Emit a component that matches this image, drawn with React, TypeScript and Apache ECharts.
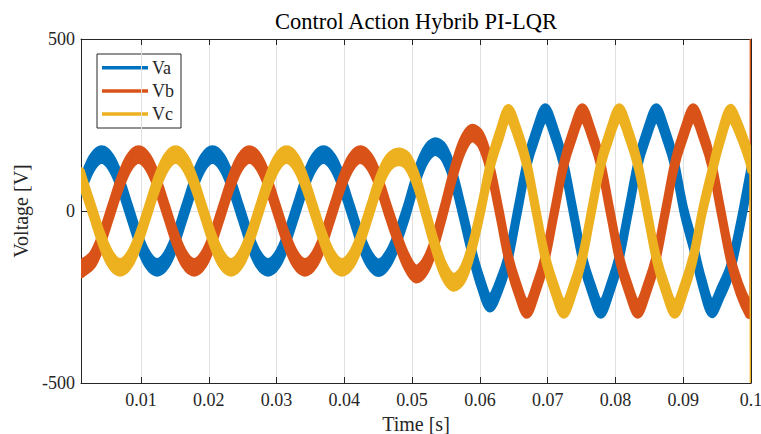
import React, { useEffect, useRef } from 'react';
import * as echarts from 'echarts';

// time samples [s]
const T = [0.00115, 0.00147, 0.00284, 0.0042, 0.00556, 0.00693, 0.00829, 0.00965, 0.01102, 0.01238, 0.01375, 0.01511, 0.01647, 0.01784, 0.0192, 0.02056, 0.02193, 0.02329, 0.02465, 0.02602, 0.02738, 0.02875, 0.03011, 0.03147, 0.03284, 0.0342, 0.03556, 0.03693, 0.03829, 0.03965, 0.04102, 0.04238, 0.04375, 0.04511, 0.04647, 0.04784, 0.0492, 0.05056, 0.05193, 0.05329, 0.05465, 0.05602, 0.05738, 0.05874, 0.06011, 0.06147, 0.06284, 0.0642, 0.06556, 0.06693, 0.06829, 0.06965, 0.07102, 0.07238, 0.07375, 0.07511, 0.07647, 0.07784, 0.0792, 0.08056, 0.08193, 0.08329, 0.08465, 0.08602, 0.08738, 0.08874, 0.09011, 0.09147, 0.09284, 0.0942, 0.09556, 0.09693, 0.09829, 0.09965, 0.09995, 0.1];

const VA = [70,
  82, 142,
  164, 142, 82, 0, -82, -142, -164, -142, -82, 0, 82, 142,
  164, 142, 82, 0, -82, -142, -164, -142, -82, 0, 82, 142,
  164, 142, 82, 0, -82, -142, -165, -139, -79, 0, 92, 160,
  187, 171, 104, 0, -113, -208, -268, -218, -135, 0, 136, 226,
  286, 226, 136, 0, -136, -226, -286, -226, -136, 0, 136, 226,
  286, 226, 136, 0, -101, -212, -284, -235, -170, -52, 88,
  117, 123];

const VB = [-168,
  -164, -142,
  -82, 0, 82, 142, 164, 142, 82, 0, -82, -142, -164, -142,
  -82, 0, 82, 142, 164, 142, 82, 0, -82, -142, -164, -142,
  -82, 0, 82, 142, 164, 142, 83, 0, -79, -147, -183, -160,
  -94, 0, 104, 187, 226, 208, 128, 0, -135, -226, -286, -226,
  -136, 0, 136, 226, 286, 226, 136, 0, -136, -226, -286, -226,
  -136, 0, 136, 226, 286, 226, 136, 0, -136, -226, -286,
  -284, 800];

const VC = [100,
  82, 0,
  -82, -142, -164, -142, -82, 0, 82, 142, 164, 142, 82, 0,
  -82, -142, -164, -142, -82, 0, 82, 142, 164, 142, 82, 0,
  -82, -142, -164, -142, -82, 0, 83, 139, 157, 147, 92, 0,
  -94, -171, -207, -187, -113, 0, 128, 218, 284, 226, 136, 0,
  -136, -226, -286, -226, -136, 0, 136, 226, 286, 226, 136, 0,
  -136, -226, -286, -226, -136, 0, 111, 215, 284, 235, 160,
  134, -800];

const SERIES_NAMES = ['Va', 'Vb', 'Vc'];
const X_TICKS = [0.01, 0.02, 0.03, 0.04, 0.05, 0.06, 0.07, 0.08, 0.09, 0.1];
const X_TICK_LABELS = ['0.01', '0.02', '0.03', '0.04', '0.05', '0.06', '0.07', '0.08', '0.09', '0.1'];
const X_MIN = 0.00115;
const X_MAX = 0.1;
const Y_MIN = -500;
const Y_MAX = 500;
const Y_STEP = 500;

const TITLE = 'Control Action Hybrib PI-LQR';
const X_NAME = 'Time [s]';
const Y_NAME = 'Voltage [V]';

const COLORS = ['#0072BD', '#D95319', '#EDB120'];
const FONT = 'Liberation Serif';
const AXIS_COLOR = '#262626';
const NOISE_V = 17; // half height of the switching-noise band (style)
const STROKE = 7;

function makeRender(V: number[], color: string) {
  return (params: any, api: any) => {
    if (params.dataIndex !== 0) return null;
    const n = T.length;
    const upper: number[][] = [];
    const lower: number[][] = [];
    for (let i = 0; i < n - 1; i++) {
      upper.push(api.coord([T[i], V[i] + NOISE_V]));
      lower.push(api.coord([T[i], V[i] - NOISE_V]));
    }
    const pts = upper.concat(lower.reverse());
    const a = api.coord([T[n - 2], V[n - 2]]);
    const b = api.coord([T[n - 1], V[n - 1]]);
    return {
      type: 'group',
      children: [
        {
          type: 'polygon',
          shape: { points: pts, smooth: 0.35 },
          style: { fill: color, stroke: color, lineWidth: STROKE, lineJoin: 'round' },
        },
        {
          type: 'line',
          shape: { x1: a[0], y1: a[1], x2: b[0], y2: b[1] },
          style: { stroke: color, lineWidth: 2.5 },
        },
      ],
    };
  };
}

export default function App() {
  const ref = useRef<HTMLDivElement>(null);
  useEffect(() => {
    const chart = echarts.init(ref.current!, null, { renderer: 'svg' });
    const series = [VA, VB, VC].map((V, si) => ({
      type: 'custom',
      name: SERIES_NAMES[si],
      clip: true,
      xAxisIndex: 0,
      yAxisIndex: 0,
      itemStyle: { color: COLORS[si] },
      data: T.map((t, i) => [t, V[i]]),
      renderItem: makeRender(V, COLORS[si]),
      z: 2,
    }));
    const labelFmt = (v: number) => {
      let best = 0;
      for (let i = 0; i < X_TICKS.length; i++) {
        if (Math.abs(X_TICKS[i] - v) < Math.abs(X_TICKS[best] - v)) best = i;
      }
      return X_TICK_LABELS[best];
    };
    const lineStyle = { color: AXIS_COLOR, width: 1 };
    const option: any = {
      animation: false,
      backgroundColor: '#ffffff',
      grid: { left: 81, top: 39, width: 670, height: 344, containLabel: false, outerBoundsMode: 'none' },
      xAxis: [
        {
          type: 'value', min: X_MIN, max: X_MAX, position: 'bottom',
          name: X_NAME, nameLocation: 'middle', nameGap: 27,
          nameTextStyle: { fontFamily: FONT, fontSize: 20, color: AXIS_COLOR },
          axisLine: { show: true, onZero: false, lineStyle },
          axisTick: { show: true, inside: true, length: 6, customValues: X_TICKS, lineStyle },
          axisLabel: { customValues: X_TICKS, formatter: labelFmt, margin: 8, fontFamily: FONT, fontSize: 18, color: AXIS_COLOR },
          splitLine: { show: true, lineStyle: { color: '#e0e0e0', width: 1 } },
        },
        {
          type: 'value', min: X_MIN, max: X_MAX, position: 'top',
          axisLine: { show: true, onZero: false, lineStyle },
          axisTick: { show: true, inside: true, length: 6, customValues: X_TICKS, lineStyle },
          axisLabel: { show: false },
          splitLine: { show: false },
        },
      ],
      yAxis: [
        {
          type: 'value', min: Y_MIN, max: Y_MAX, interval: Y_STEP, position: 'left',
          name: Y_NAME, nameLocation: 'middle', nameGap: 49,
          nameTextStyle: { fontFamily: FONT, fontSize: 20, color: AXIS_COLOR },
          axisLine: { show: true, onZero: false, lineStyle },
          axisTick: { show: true, inside: true, length: 6, lineStyle },
          axisLabel: { margin: 6, fontFamily: FONT, fontSize: 18, color: AXIS_COLOR },
          splitLine: { show: true, lineStyle: { color: '#e0e0e0', width: 1 } },
        },
        {
          type: 'value', min: Y_MIN, max: Y_MAX, interval: Y_STEP, position: 'right',
          axisLine: { show: true, onZero: false, lineStyle },
          axisTick: { show: true, inside: true, length: 6, lineStyle },
          axisLabel: { show: false },
          splitLine: { show: false },
        },
      ],
      graphic: [
        {
          type: 'text', x: 416, y: 21, z: 100,
          style: { text: TITLE, fontFamily: FONT, fontSize: 22.5, fill: '#000', align: 'center', verticalAlign: 'middle' },
        },
        {
          type: 'group', z: 100,
          children: [
            { type: 'rect', shape: { x: 97, y: 54, width: 84, height: 74 }, style: { fill: '#fff', stroke: AXIS_COLOR, lineWidth: 1 } },
            ...SERIES_NAMES.flatMap((nm, i) => [
              { type: 'line', shape: { x1: 102, y1: 67.7 + i * 23.2, x2: 148, y2: 67.7 + i * 23.2 }, style: { stroke: COLORS[i], lineWidth: 3.5 } },
              { type: 'text', x: 152, y: 67.7 + i * 23.2, style: { text: nm, fontFamily: FONT, fontSize: 18, fill: AXIS_COLOR, align: 'left', verticalAlign: 'middle' } },
            ]),
          ],
        },
      ],
      series,
    };
    chart.setOption(option);
    return () => chart.dispose();
  }, []);
  return <div ref={ref} style={{ position: 'fixed', left: 0, top: 0, width: 761, height: 434, background: '#fff' }} />;
}
